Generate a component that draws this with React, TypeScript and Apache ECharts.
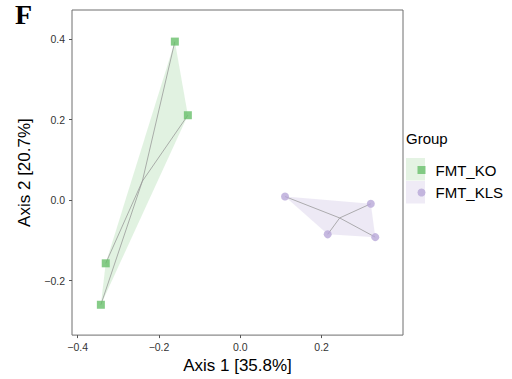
import React, { useEffect, useRef } from "react";
import * as echarts from "echarts";

const groups = ["FMT_KO", "FMT_KLS"];
const koX = [-0.161, -0.129, -0.331, -0.343];
const koY = [0.394, 0.211, -0.157, -0.26];
const klsX = [0.11, 0.321, 0.215, 0.332];
const klsY = [0.009, -0.009, -0.085, -0.092];
const xTicks = [-0.4, -0.2, 0.0, 0.2];
const yTicks = [-0.2, 0.0, 0.2, 0.4];
const axisTitles = ["Axis 1 [35.8%]", "Axis 2 [20.7%]"];
const legendTitle = "Group";
const panelLabel = "F";

const GREEN = "#68bf6a";
const PURPLE = "#b8a7d8";
const GREEN_FILL = "rgba(104,191,106,0.2)";
const PURPLE_FILL = "rgba(184,167,216,0.25)";
const FONT = '"Liberation Sans", Arial, sans-serif';

const mean = (a: number[]) => a.reduce((s, v) => s + v, 0) / a.length;

function convexHull(pts: number[][]): number[][] {
  const p = pts.slice().sort((a, b) => (a[0] - b[0]) || (a[1] - b[1]));
  const cross = (o: number[], a: number[], b: number[]) =>
    (a[0] - o[0]) * (b[1] - o[1]) - (a[1] - o[1]) * (b[0] - o[0]);
  const lower: number[][] = [];
  for (const q of p) {
    while (lower.length >= 2 && cross(lower[lower.length - 2], lower[lower.length - 1], q) <= 0) lower.pop();
    lower.push(q);
  }
  const upper: number[][] = [];
  for (let i = p.length - 1; i >= 0; i--) {
    const q = p[i];
    while (upper.length >= 2 && cross(upper[upper.length - 2], upper[upper.length - 1], q) <= 0) upper.pop();
    upper.push(q);
  }
  upper.pop();
  lower.pop();
  return lower.concat(upper);
}

function hullLayer(xs: number[], ys: number[], fill: string) {
  return {
    type: "custom",
    coordinateSystem: "cartesian2d",
    silent: true,
    z: 1,
    data: [[mean(xs), mean(ys)]],
    renderItem: (_params: any, api: any) => {
      const pts = xs.map((x, i) => api.coord([x, ys[i]]));
      const hull = convexHull(pts);
      const c = api.coord([mean(xs), mean(ys)]);
      return {
        type: "group",
        children: [
          { type: "polygon", shape: { points: hull }, style: { fill, stroke: "none" } },
          ...pts.map((p: number[]) => ({
            type: "line",
            shape: { x1: c[0], y1: c[1], x2: p[0], y2: p[1] },
            style: { stroke: "rgba(150,150,150,0.75)", lineWidth: 1 },
          })),
        ],
      };
    },
  };
}

const fmt = (v: number) => (v < -1e-9 ? "\u2212" : "") + Math.abs(v).toFixed(1);

export default function App() {
  const ref = useRef<HTMLDivElement>(null);
  useEffect(() => {
    const chart = echarts.init(ref.current!, null, { renderer: "svg" });
    chart.setOption({
      animation: false,
      backgroundColor: "#fff",
      grid: {
        left: 72,
        top: 10,
        right: 109,
        bottom: 39,
        show: true,
        borderColor: "#6e6e6e",
        borderWidth: 1,
        backgroundColor: "#fff",
      },
      xAxis: {
        type: "value",
        min: -0.414,
        max: 0.4002,
        axisLine: { show: false, onZero: false },
        splitLine: { show: false },
        axisTick: { show: true, length: 3, customValues: xTicks, lineStyle: { color: "#555" } },
        axisLabel: {
          customValues: xTicks,
          formatter: fmt,
          fontSize: 10.5,
          color: "#333",
          margin: 6,
          fontFamily: FONT,
        },
        name: axisTitles[0],
        nameLocation: "middle",
        nameGap: 21,
        nameTextStyle: { fontSize: 17, color: "#000", fontFamily: FONT },
      },
      yAxis: {
        type: "value",
        min: -0.3354,
        max: 0.4725,
        axisLine: { show: false, onZero: false },
        splitLine: { show: false },
        axisTick: { show: true, length: 3, customValues: yTicks, lineStyle: { color: "#555" } },
        axisLabel: {
          customValues: yTicks,
          formatter: fmt,
          fontSize: 10.5,
          color: "#333",
          margin: 7,
          fontFamily: FONT,
        },
        name: axisTitles[1],
        nameLocation: "middle",
        nameGap: 38,
        nameTextStyle: { fontSize: 17, color: "#000", fontFamily: FONT },
      },
      legend: {
        orient: "vertical",
        left: 412.5,
        top: 155,
        itemWidth: 8,
        itemHeight: 8,
        itemGap: 2.5,
        data: [
          { name: groups[0], icon: "rect" },
          { name: groups[1], icon: "circle" },
        ],
        textStyle: { fontSize: 15, color: "#000", fontFamily: FONT, lineHeight: 20, padding: [0, 0, 0, 5] },
      },
      graphic: [
        { type: "rect", left: 406, top: 158, shape: { width: 19, height: 22.5 }, style: { fill: "#e4f3e3" }, z: -1 },
        { type: "rect", left: 406, top: 181, shape: { width: 19, height: 22.5 }, style: { fill: "#efebf6" }, z: -1 },
        {
          type: "text",
          x: 406,
          y: 138,
          style: { text: legendTitle, fontSize: 15, fill: "#000", fontFamily: FONT, verticalAlign: "middle" },
        },
        {
          type: "text",
          x: 15,
          y: 14,
          style: {
            text: panelLabel,
            font: 'bold 28px "Liberation Serif", "Times New Roman", serif',
            fill: "#000",
            verticalAlign: "middle",
          },
        },
      ],
      series: [
        hullLayer(koX, koY, GREEN_FILL),
        hullLayer(klsX, klsY, PURPLE_FILL),
        {
          type: "scatter",
          name: groups[0],
          symbol: "rect",
          symbolSize: 8,
          z: 3,
          itemStyle: { color: GREEN },
          data: koX.map((x, i) => [x, koY[i]]),
        },
        {
          type: "scatter",
          name: groups[1],
          symbol: "circle",
          symbolSize: 8,
          z: 3,
          itemStyle: { color: PURPLE },
          data: klsX.map((x, i) => [x, klsY[i]]),
        },
      ],
    });
    return () => chart.dispose();
  }, []);
  return <div ref={ref} style={{ position: "absolute", left: 0, top: 0, width: 512, height: 379 }} />;
}
